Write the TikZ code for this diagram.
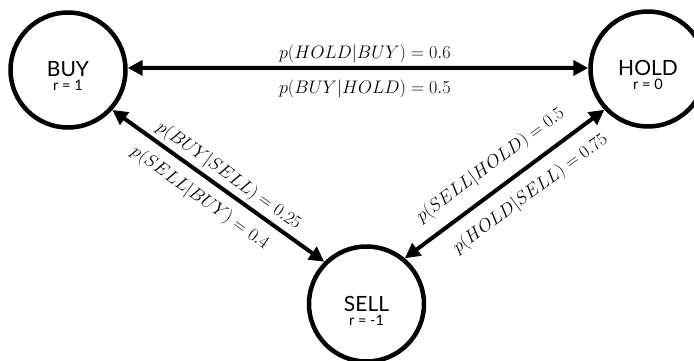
\documentclass[tikz,border=0pt]{standalone}
\usepackage{fontspec}
\setmainfont{Lato}
\usetikzlibrary{arrows.meta}

\newcommand{\rewfont}{\fontsize{14.5}{15}\selectfont}

\begin{document}
\begin{tikzpicture}[x=1pt, y=-1pt,
  state/.style={circle, draw=black, line width=4.5pt, minimum size=115pt, inner sep=0pt,
    align=center, font=\fontsize{21}{22}\selectfont},
  link/.style={line width=4pt,
    {Triangle[length=15pt,width=15pt]}-{Triangle[length=15pt,width=15pt]}},
  prob/.style={font=\fontsize{17.28}{18}\selectfont, scale=1.05, inner sep=0pt, sloped}]

  \useasboundingbox (0,0) rectangle (694,361);

  % -- States --
  \node[state] (buy) at (68,70) {\rule{0pt}{28pt}BUY\\[-8pt]{\rewfont r = 1}};
  \node[state] (hold) at (648,69) {\rule{0pt}{28pt}HOLD\\[-8pt]{\rewfont r = 0}};
  \node[state] (sell) at (366.5,304) {\rule{0pt}{28pt}SELL\\[-8pt]{\rewfont r = -1}};

  % -- BUY <-> HOLD --
  \draw[link] (buy.2) -- node[prob, above=3pt, pos=0.515] {$p(HOLD|BUY) = 0.6$}
    node[prob, below=9pt, pos=0.515] {$p(BUY|HOLD) = 0.5$} (hold.179);

  % -- BUY <-> SELL --
  \draw[link] (buy.-42) -- node[prob, above=3pt, pos=0.51] {$p(BUY|SELL) = 0.25$}
    node[prob, below=9pt, pos=0.47] {$p(SELL|BUY) = 0.4$} (sell.135);

  % -- SELL <-> HOLD --
  \draw[link] (sell.50) -- node[prob, above=11.5pt, pos=0.5] {$p(SELL|HOLD) = 0.5$}
    node[prob, below=11.5pt, pos=0.56] {$p(HOLD|SELL) = 0.75$} (hold.223);

\end{tikzpicture}
\end{document}
